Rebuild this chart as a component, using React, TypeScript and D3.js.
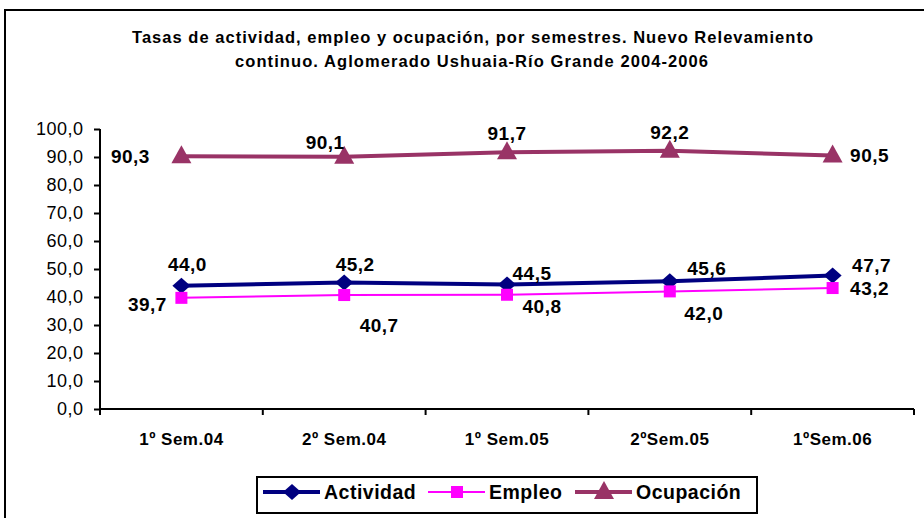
import * as d3 from "d3";
import { useEffect, useRef } from "react";

const categories = ["1º Sem.04", "2º Sem.04", "1º Sem.05", "2ºSem.05", "1ºSem.06"];
const actividad = [44.0, 45.2, 44.5, 45.6, 47.7];
const empleo = [39.7, 40.7, 40.8, 42.0, 43.2];
const ocupacion = [90.3, 90.1, 91.7, 92.2, 90.5];
const yTicks = [0, 10, 20, 30, 40, 50, 60, 70, 80, 90, 100];

// label offsets from the point (dx, dy) per series
const actividadLabelPos = [[6, -21], [11, -18], [25, -11], [37, -13], [39, -10]];
const empleoLabelPos = [[-34, 7], [35, 30], [35, 12], [34, 22], [37, 0]];
const ocupacionLabelPos = [[-51, 0], [-19, -14], [0, -19], [0, -18], [37, 0]];

const FONT = "'Liberation Sans', Arial, sans-serif";

const series = [
    { name: "Actividad", values: actividad, color: "#000080", width: 4, marker: "diamond", labels: actividadLabelPos },
    { name: "Empleo", values: empleo, color: "#FF00FF", width: 2, marker: "square", labels: empleoLabelPos },
    { name: "Ocupación", values: ocupacion, color: "#993366", width: 4, marker: "triangle", labels: ocupacionLabelPos },
];

const fmt = (v: number) => v.toFixed(1).replace(".", ",");

const drawMarker = (g: any, type: string, x: number, y: number, color: string) => {
    if (type === "diamond") {
        g.append("path")
            .attr("d", `M${x},${y - 8} L${x + 9},${y} L${x},${y + 8} L${x - 9},${y} Z`)
            .attr("fill", color);
    } else if (type === "square") {
        g.append("rect")
            .attr("x", x - 6)
            .attr("y", y - 6)
            .attr("width", 12)
            .attr("height", 12)
            .attr("fill", color);
    } else {
        g.append("path")
            .attr("d", `M${x},${y - 11} L${x + 10},${y + 7} L${x - 10},${y + 7} Z`)
            .attr("fill", color);
    }
};

export default function App() {
    const svgRef = useRef<SVGSVGElement>(null);
    const width = 924;
    const height = 518;
    const plotLeft = 100;
    const plotRight = 914;
    const plotTop = 129;
    const plotBottom = 409;

    useEffect(() => {
        if (svgRef.current) {
            drawChart();
        }
    }, [svgRef]);

    const drawChart = () => {
        const svg = d3.select(svgRef.current);
        svg.selectAll("*").remove();

        // outer frame
        svg.append("rect")
            .attr("x", 5)
            .attr("y", 10)
            .attr("width", 940)
            .attr("height", 530)
            .attr("fill", "white")
            .attr("stroke", "black")
            .attr("stroke-width", 2);

        // title
        const title = svg.append("text")
            .attr("text-anchor", "middle")
            .attr("font-family", FONT)
            .attr("font-weight", "bold")
            .attr("font-size", 16.5);
        title.append("tspan").attr("x", 472.5).attr("y", 43)
            .attr("textLength", 681).attr("lengthAdjust", "spacing")
            .text("Tasas de actividad, empleo y ocupación, por semestres. Nuevo Relevamiento");
        title.append("tspan").attr("x", 471.5).attr("y", 67)
            .attr("textLength", 473).attr("lengthAdjust", "spacing")
            .text("continuo. Aglomerado Ushuaia-Río Grande 2004-2006");

        const scaleX = d3.scaleBand().domain(categories).range([plotLeft, plotRight]);
        const scaleY = d3.scaleLinear().domain([0, 100]).range([plotBottom, plotTop]);
        const cx = (c: string) => (scaleX(c) as number) + scaleX.bandwidth() / 2;

        // y axis
        svg.append("g")
            .attr("transform", `translate(${plotLeft},0)`)
            .call(d3.axisLeft(scaleY).tickValues(yTicks).tickSize(6).tickFormat((d: any) => fmt(d)))
            .call((g: any) => {
                g.select(".domain").attr("stroke", "black").attr("stroke-width", 2).attr("d", `M0,${plotTop}V${plotBottom}`);
                g.selectAll("line").attr("stroke", "black").attr("stroke-width", 2);
                g.selectAll("text")
                    .attr("font-family", FONT)
                    .attr("font-size", 18)
                    .attr("letter-spacing", 0.5)
                    .attr("fill", "black")
                    .attr("x", -16.5);
            });

        // x axis
        svg.append("g")
            .attr("transform", `translate(0,${plotBottom})`)
            .call(d3.axisBottom(scaleX).tickSize(0).tickFormat(() => ""))
            .call((g: any) => {
                g.select(".domain").attr("stroke", "black").attr("stroke-width", 2).attr("d", `M${plotLeft},0H${plotRight}`);
            });
        const edges = categories.map((c) => scaleX(c) as number).concat([plotRight]);
        svg.append("g").selectAll("line").data(edges).enter().append("line")
            .attr("x1", (d: number) => d).attr("x2", (d: number) => d)
            .attr("y1", plotBottom).attr("y2", plotBottom + 6)
            .attr("stroke", "black").attr("stroke-width", 2);
        svg.append("g").selectAll("text").data(categories).enter().append("text")
            .attr("x", (d: string) => cx(d))
            .attr("y", 445)
            .attr("text-anchor", "middle")
            .attr("font-family", FONT)
            .attr("font-weight", "bold")
            .attr("font-size", 17)
            .attr("letter-spacing", 0.5)
            .text((d: string) => d);

        // lines, markers, labels
        const line = d3.line<number>()
            .x((_d, i) => cx(categories[i]))
            .y((d) => scaleY(d));
        const order = [2, 0, 1];
        order.forEach((si) => {
            const s = series[si];
            svg.append("path")
                .attr("d", line(s.values))
                .attr("fill", "none")
                .attr("stroke", s.color)
                .attr("stroke-width", s.width);
        });
        order.forEach((si) => {
            const s = series[si];
            const g = svg.append("g");
            s.values.forEach((v, i) => {
                drawMarker(g, s.marker, cx(categories[i]), scaleY(v), s.color);
            });
        });
        series.forEach((s) => {
            s.values.forEach((v, i) => {
                svg.append("text")
                    .attr("x", cx(categories[i]) + s.labels[i][0])
                    .attr("y", scaleY(v) + s.labels[i][1])
                    .attr("dy", "0.35em")
                    .attr("text-anchor", "middle")
                    .attr("font-family", FONT)
                    .attr("font-weight", "bold")
                    .attr("font-size", 19)
                    .attr("letter-spacing", 0.5)
                    .text(fmt(v));
            });
        });

        // legend
        const legend = svg.append("g");
        legend.append("rect")
            .attr("x", 257).attr("y", 477).attr("width", 500).attr("height", 36)
            .attr("fill", "white").attr("stroke", "black").attr("stroke-width", 2);
        const legendX = [263, 428, 575];
        series.forEach((s, i) => {
            const x0 = legendX[i];
            const y0 = 492;
            legend.append("line")
                .attr("x1", x0).attr("x2", x0 + 57)
                .attr("y1", y0).attr("y2", y0)
                .attr("stroke", s.color).attr("stroke-width", s.width);
            drawMarker(legend, s.marker, x0 + 29, y0, s.color);
            legend.append("text")
                .attr("x", x0 + 61)
                .attr("y", y0)
                .attr("dy", "0.35em")
                .attr("font-family", FONT)
                .attr("font-weight", "bold")
                .attr("font-size", 19.5)
                .attr("letter-spacing", 0.5)
                .text(s.name);
        });
    };

    return (
        <svg
            ref={svgRef}
            width={width}
            height={height}
            style={{ position: "absolute", left: 0, top: 0, background: "white" }}
        />
    );
}
